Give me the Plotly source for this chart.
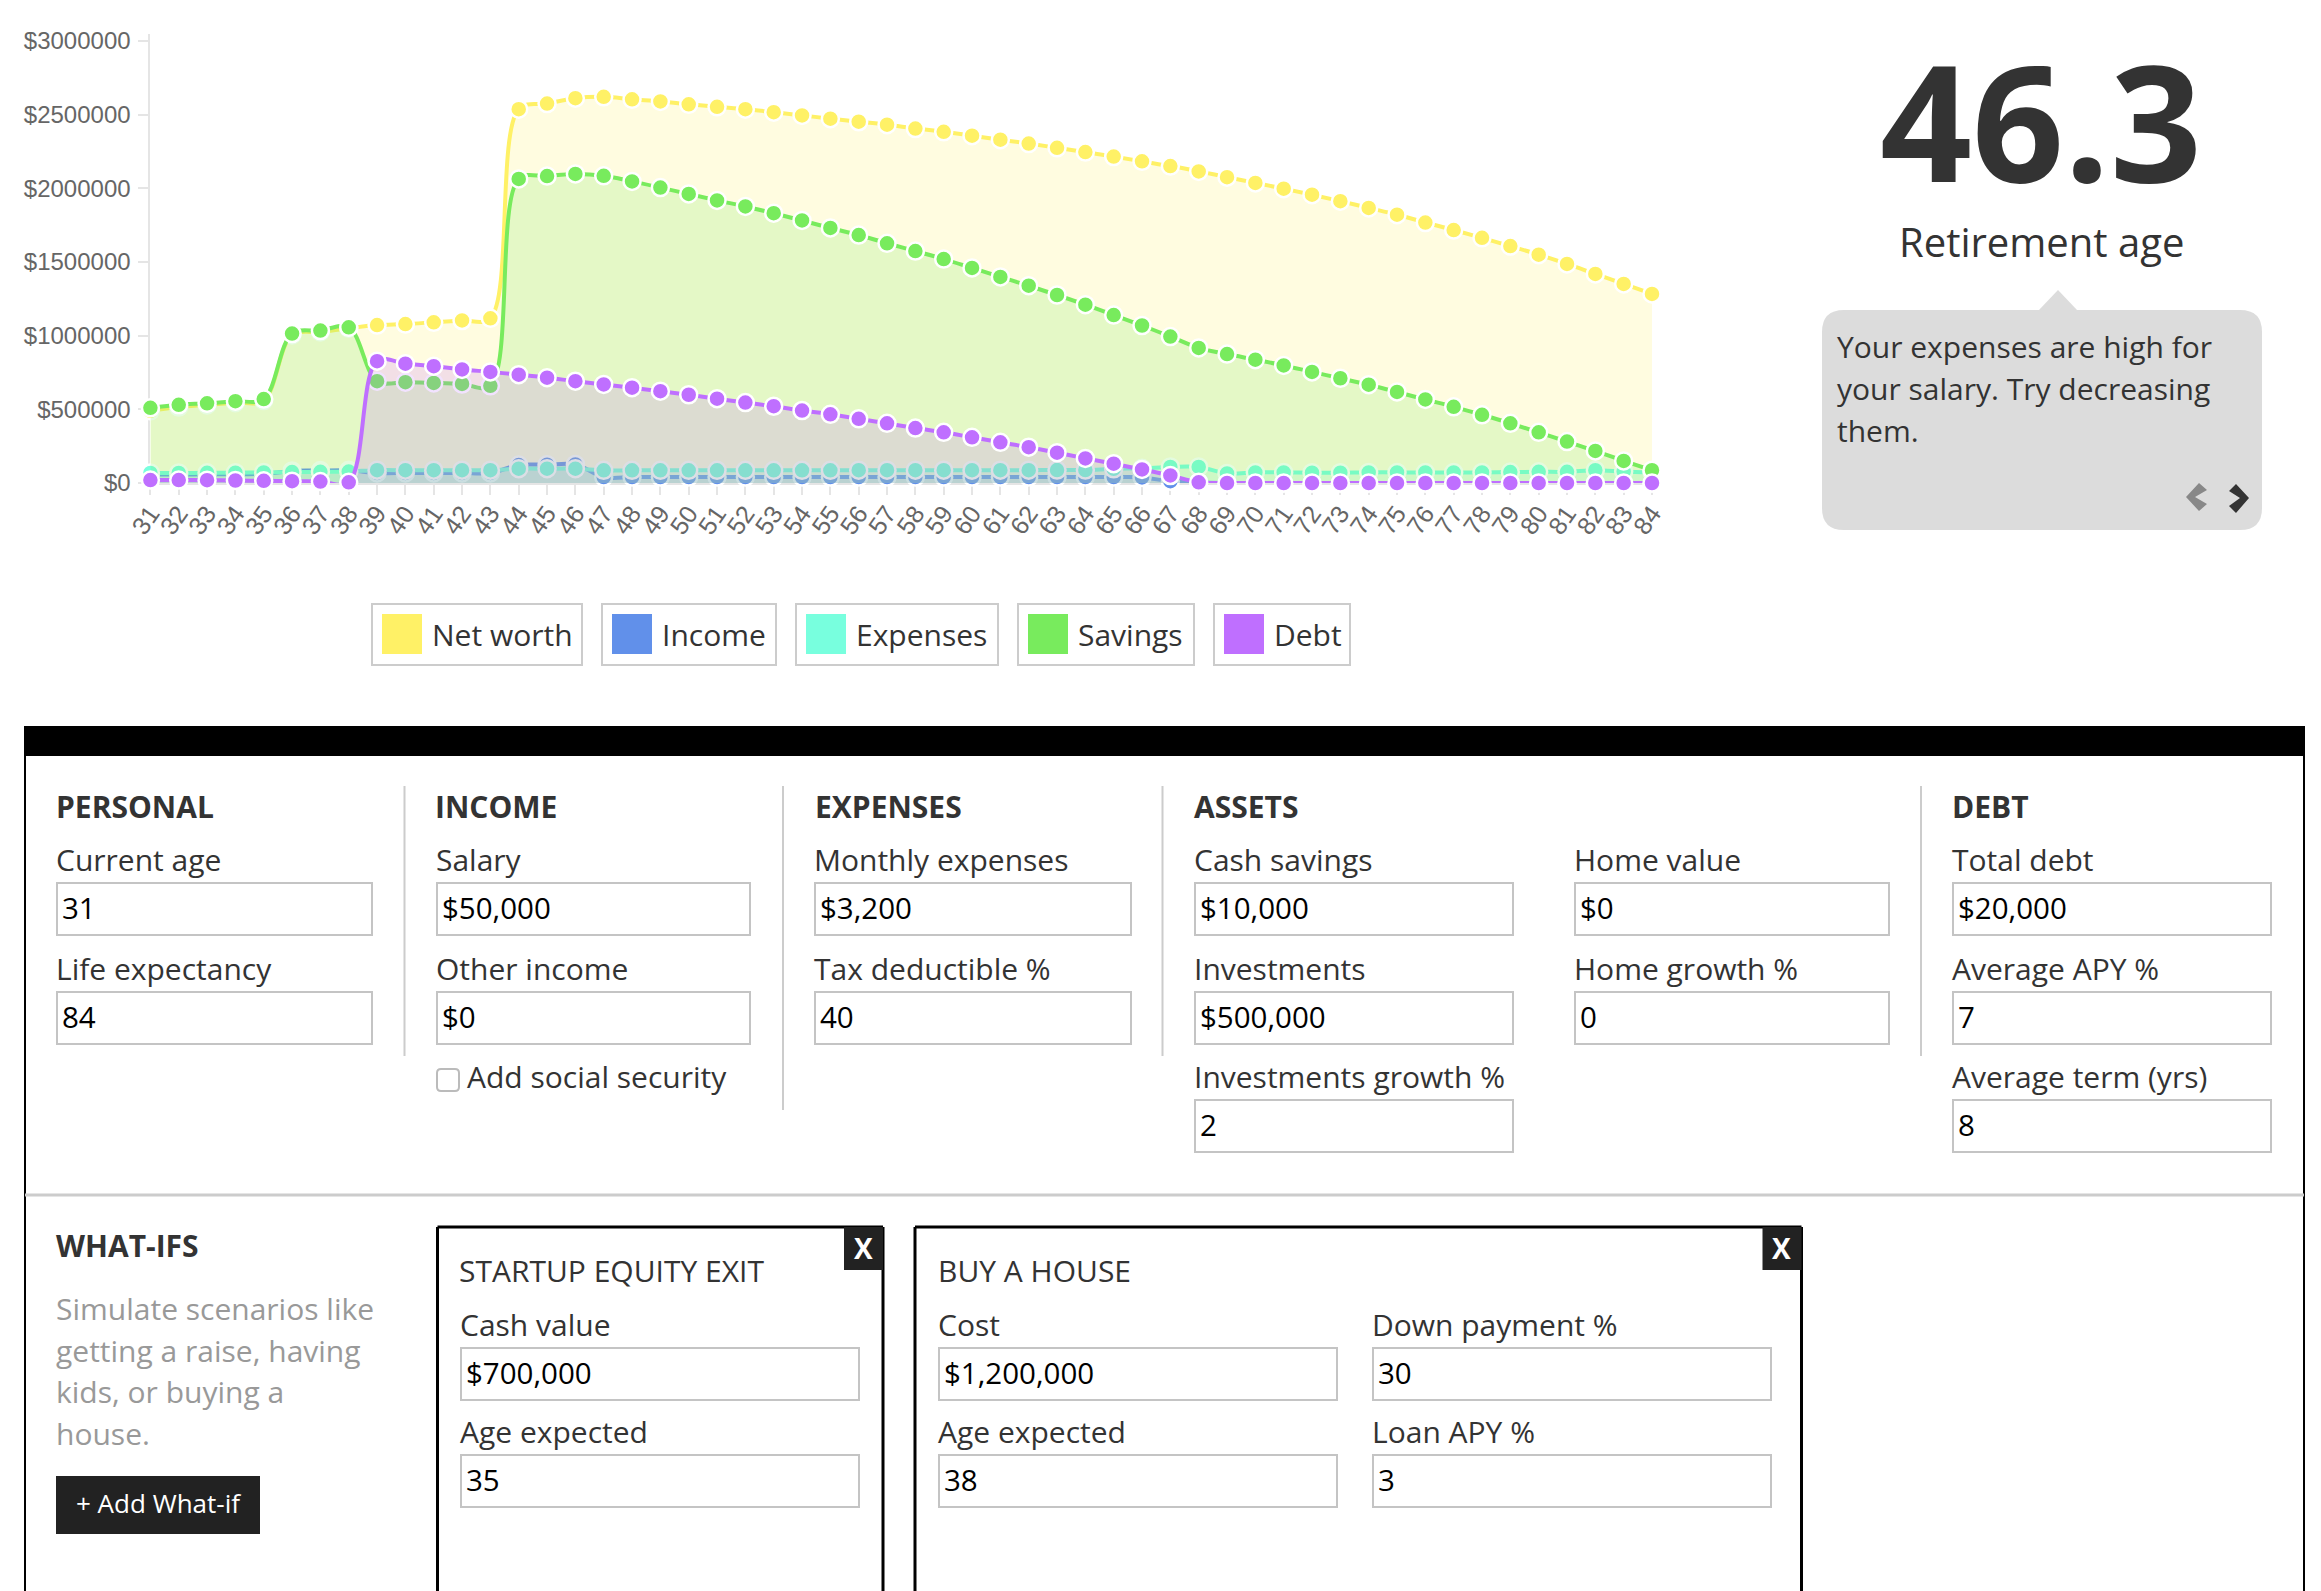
import plotly.graph_objects as go

W = 2321
H = 1591
FONT = "Open Sans"

# ==========================================================
# CHART DATA
# ==========================================================

ages = list(range(31, 85))

net_worth = [490000, 515000, 530000, 545000, 560000, 1005000, 1025000, 1050000, 1072000, 1079000,
             1091000, 1103000, 1118000, 2537000, 2575000, 2612000, 2621000, 2604000, 2590000, 2570000,
             2553000, 2537000, 2517000, 2495000, 2473000, 2452000, 2432000, 2406000, 2384000, 2357000,
             2330000, 2304000, 2275000, 2246000, 2216000, 2183000, 2151000, 2115000, 2076000, 2037000,
             1998000, 1957000, 1913000, 1867000, 1821000, 1768000, 1717000, 1664000, 1608000, 1550000,
             1487000, 1419000, 1351000, 1283000]

income = [58000, 58000, 59000, 60000, 62000, 82000, 84000, 86000, 68000, 68000,
          68000, 68000, 68000, 122000, 124000, 126000, 40000, 40000, 40000, 40000,
          40000, 40000, 40000, 40000, 40000, 40000, 40000, 40000, 40000, 40000,
          40000, 40000, 40000, 40000, 40000, 38000, 12000, 3000, 0, 0,
          0, 0, 0, 0, 0, 0, 0, 0, 0, 0,
          0, 0, 0, 0]

expenses = [68000, 68000, 69000, 70000, 72000, 74000, 76000, 78000, 87000, 87000,
            87000, 87000, 87000, 97000, 97000, 97000, 86000, 86000, 86000, 86000,
            86000, 86000, 86000, 86000, 86000, 87000, 87000, 87000, 87000, 87000,
            87000, 87000, 88000, 88000, 96000, 100000, 109000, 109000, 65000, 72000,
            72000, 70000, 70000, 72000, 72000, 72000, 72000, 72000, 74000, 76000,
            76000, 87000, 78000, 72000]

savings = [510000, 531000, 541000, 555000, 570000, 1014000, 1035000, 1057000, 691000, 684000,
           679000, 672000, 660000, 2064000, 2083000, 2098000, 2085000, 2047000, 2005000, 1962000,
           1918000, 1877000, 1831000, 1782000, 1731000, 1683000, 1627000, 1574000, 1520000, 1460000,
           1399000, 1339000, 1276000, 1210000, 1140000, 1069000, 994000, 917000, 875000, 837000,
           798000, 754000, 711000, 667000, 618000, 567000, 517000, 463000, 405000, 344000,
           281000, 218000, 150000, 87000]

debt = [20000, 20000, 19000, 17000, 15000, 12000, 10000, 5000, 827000, 810000,
        793000, 771000, 754000, 735000, 715000, 691000, 669000, 647000, 623000, 599000,
        572000, 546000, 521000, 492000, 466000, 436000, 405000, 373000, 344000, 310000,
        276000, 243000, 206000, 167000, 131000, 92000, 51000, 5000, 0, 0,
        0, 0, 0, 0, 0, 0, 0, 0, 0, 0,
        0, 0, 0, 0]

series_names = ["Net worth", "Income", "Expenses", "Savings", "Debt"]
series_values = [net_worth, income, expenses, savings, debt]
series_colors = ["255,241,102", "97,144,234", "120,255,222", "120,235,93", "191,111,255"]

y_ticks = [0, 500000, 1000000, 1500000, 2000000, 2500000, 3000000]

# ==========================================================
# HELPERS (page pixels to paper coordinates)
# ==========================================================

shapes = []
annotations = []


def px(x):
    return x / W


def py(y):
    return 1 - y / H


def rect(x0, y0, x1, y1, fill="rgba(0,0,0,0)", line="rgba(0,0,0,0)", width=0):
    shapes.append(dict(type="rect", xref="paper", yref="paper", x0=px(x0), y0=py(y0), x1=px(x1), y1=py(y1),
                       fillcolor=fill, line=dict(color=line, width=width)))


def round_rect(x0, y0, x1, y1, r, fill, line="rgba(0,0,0,0)", width=0):
    path = (f"M {px(x0 + r)},{py(y0)} L {px(x1 - r)},{py(y0)} Q {px(x1)},{py(y0)} {px(x1)},{py(y0 + r)} "
            f"L {px(x1)},{py(y1 - r)} Q {px(x1)},{py(y1)} {px(x1 - r)},{py(y1)} "
            f"L {px(x0 + r)},{py(y1)} Q {px(x0)},{py(y1)} {px(x0)},{py(y1 - r)} "
            f"L {px(x0)},{py(y0 + r)} Q {px(x0)},{py(y0)} {px(x0 + r)},{py(y0)} Z")
    shapes.append(dict(type="path", xref="paper", yref="paper", path=path, fillcolor=fill,
                       line=dict(color=line, width=width)))


def seg(x0, y0, x1, y1, color="#cccccc", width=2):
    shapes.append(dict(type="line", xref="paper", yref="paper", x0=px(x0), y0=py(y0), x1=px(x1), y1=py(y1),
                       line=dict(color=color, width=width)))


def poly(points, fill):
    path = "M " + " L ".join(f"{px(a)},{py(b)}" for a, b in points) + " Z"
    shapes.append(dict(type="path", xref="paper", yref="paper", path=path, fillcolor=fill, line=dict(width=0)))


def text(x, y, s, size=30, color="#333333", anchor="left", bold=False):
    annotations.append(dict(xref="paper", yref="paper", x=px(x), y=py(y), text=f"<b>{s}</b>" if bold else s,
                            showarrow=False, xanchor=anchor, yanchor="middle", align=anchor,
                            font=dict(family=FONT, size=size, color=color), borderpad=0, borderwidth=0))


def field(x0, x1, row_y, label, value):
    text(x0 - 1, row_y - 2, label)
    rect(x0, row_y + 22, x1, row_y + 74, fill="white", line="#c4c4c4", width=2)
    text(x0 + 5, row_y + 46, value, size=29.5, color="#000000")


# ==========================================================
# RIGHT PANEL
# ==========================================================

text(2041, 120, "46.3", size=161, anchor="center", bold=True)
text(2041, 241, "Retirement age", size=40, anchor="center")

round_rect(1822, 310, 2262, 530, 22, "#dcdcdc")
poly([(2039, 310), (2058, 290), (2077, 310)], "#dcdcdc")

text(1837, 346, "Your expenses are high for")
text(1837, 388, "your salary. Try decreasing")
text(1837, 430, "them.")

poly([(2199, 483), (2207, 490), (2195, 497), (2207, 504), (2199, 511), (2186, 497)], "#888888")
poly([(2236, 484), (2229, 491), (2240, 498), (2229, 506), (2236, 513), (2249, 498)], "#333333")

# ==========================================================
# LEGEND
# ==========================================================

legend_boxes = [(372, 582), (602, 776), (796, 998), (1018, 1194), (1214, 1350)]

for (x0, x1), name, color in zip(legend_boxes, series_names, series_colors):
    rect(x0, 604, x1, 665, fill="white", line="#cccccc", width=2)
    rect(x0 + 10, 614, x0 + 50, 654, fill=f"rgb({color})")
    text(x0 + 60, 635, name)

# ==========================================================
# INPUT PANEL
# ==========================================================

rect(24, 726, 2305, 756, fill="#000000")
seg(25, 726, 25, 1591, color="#000000", width=2)
seg(2304, 726, 2304, 1591, color="#000000", width=2)
seg(25, 1195, 2304, 1195, color="#cccccc", width=3)

seg(404.5, 786, 404.5, 1056)
seg(783, 786, 783, 1110)
seg(1162.5, 786, 1162.5, 1056)
seg(1921, 786, 1921, 1056)

text(56, 806, "PERSONAL", bold=True)
text(435, 806, "INCOME", bold=True)
text(815, 806, "EXPENSES", bold=True)
text(1194, 806, "ASSETS", bold=True)
text(1952, 806, "DEBT", bold=True)

ROW1, ROW2, ROW3 = 861, 970, 1078

field(57, 372, ROW1, "Current age", "31")
field(57, 372, ROW2, "Life expectancy", "84")
field(437, 750, ROW1, "Salary", "$50,000")
field(437, 750, ROW2, "Other income", "$0")
field(815, 1131, ROW1, "Monthly expenses", "$3,200")
field(815, 1131, ROW2, "Tax deductible %", "40")
field(1195, 1513, ROW1, "Cash savings", "$10,000")
field(1195, 1513, ROW2, "Investments", "$500,000")
field(1195, 1513, ROW3, "Investments growth %", "2")
field(1575, 1889, ROW1, "Home value", "$0")
field(1575, 1889, ROW2, "Home growth %", "0")
field(1953, 2271, ROW1, "Total debt", "$20,000")
field(1953, 2271, ROW2, "Average APY %", "7")
field(1953, 2271, ROW3, "Average term (yrs)", "8")

round_rect(437, 1069, 459, 1091, 4, "white", line="#bbbbbb", width=2)
text(467, 1076, "Add social security")

# ==========================================================
# WHAT-IFS
# ==========================================================

text(56, 1245, "WHAT-IFS", bold=True)
text(56, 1308, "Simulate scenarios like", color="#999999")
text(56, 1350, "getting a raise, having", color="#999999")
text(56, 1391, "kids, or buying a", color="#999999")
text(56, 1433, "house.", color="#999999")

rect(56, 1476, 260, 1534, fill="#222222")
text(158, 1503, "+ Add What-if", size=26, color="#ffffff", anchor="center")

for x0, x1 in [(437.5, 883), (915, 1801.5)]:
    seg(x0, 1227, x0, 1591, color="#000000", width=3)
    seg(x0, 1227, x1, 1227, color="#000000", width=3)
    seg(x1, 1227, x1, 1591, color="#000000", width=3)
    rect(x1 - 39, 1227, x1, 1270, fill="#222222")
    text(x1 - 20, 1248, "X", size=28, color="#ffffff", anchor="center", bold=True)

text(459, 1270, "STARTUP EQUITY EXIT")
field(461, 859, 1326, "Cash value", "$700,000")
field(461, 859, 1433, "Age expected", "35")

text(938, 1270, "BUY A HOUSE")
field(939, 1337, 1326, "Cost", "$1,200,000")
field(939, 1337, 1433, "Age expected", "38")
field(1373, 1771, 1326, "Down payment %", "30")
field(1373, 1771, 1433, "Loan APY %", "3")

# ==========================================================
# FIGURE
# ==========================================================

fig = go.Figure()

for name, values, color in zip(series_names, series_values, series_colors):
    fig.add_trace(go.Scatter(
        x=ages,
        y=values,
        name=name,
        mode="lines+markers",
        line=dict(color=f"rgb({color})", width=4, shape="spline", smoothing=1.0),
        marker=dict(color=f"rgb({color})", size=17, line=dict(color="white", width=2.5)),
        fill="tozeroy",
        fillcolor=f"rgba({color},0.2)",
        cliponaxis=False,
        showlegend=False,
    ))

fig.update_layout(
    width=W,
    height=H,
    margin=dict(l=0, r=0, t=0, b=0, pad=0, autoexpand=False),
    paper_bgcolor="white",
    plot_bgcolor="white",
    showlegend=False,
    shapes=shapes,
    annotations=annotations,
    xaxis=dict(
        domain=[150.4 / W, 1652 / W],
        range=[31, 84],
        tickmode="array",
        tickvals=ages,
        ticktext=[str(a) for a in ages],
        tickangle=-55,
        ticks="outside",
        ticklen=10,
        tickwidth=2,
        tickcolor="#e5e5e5",
        ticklabelstandoff=-6,
        showgrid=False,
        zeroline=False,
        showline=True,
        linecolor="#e5e5e5",
        linewidth=2,
        layer="below traces",
        tickfont=dict(family="Liberation Sans", size=25, color="#666666"),
    ),
    yaxis=dict(
        domain=[py(483), py(34)],
        range=[0, 3047500],
        tickmode="array",
        tickvals=y_ticks,
        ticktext=[f"${v}" for v in y_ticks],
        ticks="outside",
        ticklen=10,
        tickwidth=2,
        tickcolor="#e5e5e5",
        ticklabelstandoff=3,
        showgrid=False,
        zeroline=False,
        showline=True,
        linecolor="#e5e5e5",
        linewidth=2,
        layer="below traces",
        tickfont=dict(family="Liberation Sans", size=24, color="#666666"),
    ),
)

fig.write_html("out.html", config={"displayModeBar": False},
               post_script="document.body.style.margin='0';document.body.style.overflow='hidden';")
